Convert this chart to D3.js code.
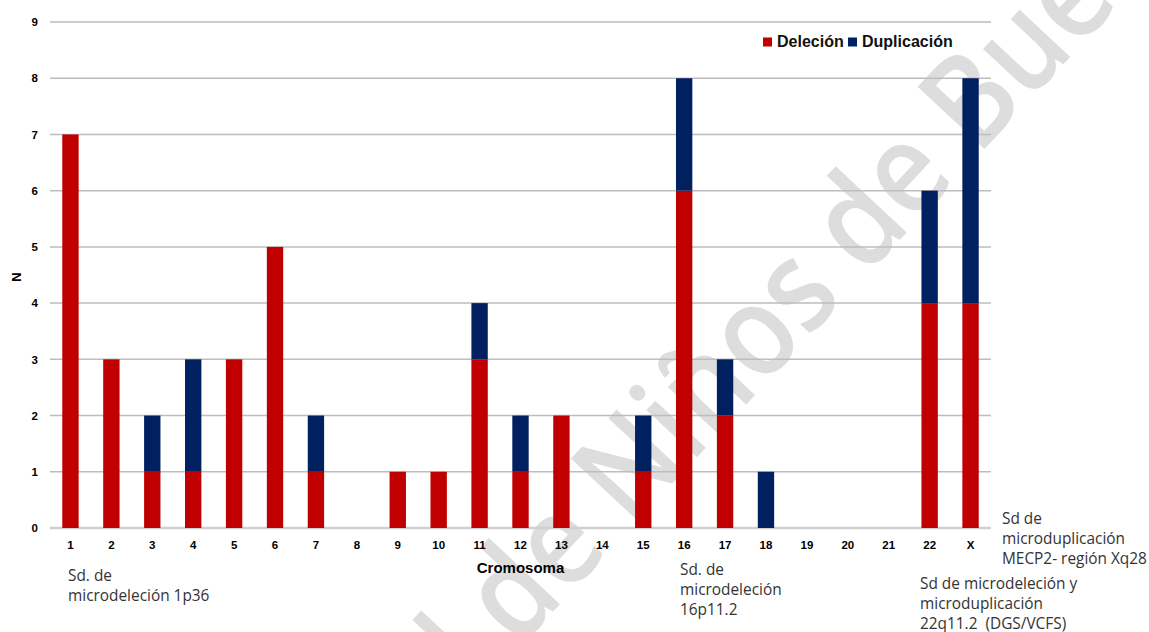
<!DOCTYPE html>
<html>
<head>
<meta charset="utf-8">
<script src="https://cdn.jsdelivr.net/npm/d3@7"></script>
<style>
  html, body { margin: 0; padding: 0; background: #fff; }
  svg { display: block; }
</style>
</head>
<body>
<svg id="chart" width="1149" height="632"></svg>
<script>
// Cases per chromosome, split by type of copy-number change
const cromosomas = ["1","2","3","4","5","6","7","8","9","10","11","12","13","14","15","16","17","18","19","20","21","22","X"];
const delecion    = [7, 3, 1, 1, 3, 5, 1, 0, 1, 1, 3, 1, 2, 0, 1, 6, 2, 0, 0, 0, 0, 4, 4];
const duplicacion = [0, 0, 1, 2, 0, 0, 1, 0, 0, 0, 1, 1, 0, 0, 1, 2, 1, 1, 0, 0, 0, 2, 4];
const yTicks = [0, 1, 2, 3, 4, 5, 6, 7, 8, 9];
const series = ["Deleción", "Duplicación"];
const colores = ["#C00000", "#002060"];

// Notes placed under specific chromosomes
const notas = [
  { lines: ["Sd. de", "microdeleción 1p36"], x: 68, y: 581 },
  { lines: ["Sd. de", "microdeleción", "16p11.2"], x: 680, y: 575 },
  { lines: ["Sd de", "microduplicación", "MECP2- región Xq28"], x: 1002, y: 524 },
  { lines: ["Sd de microdeleción y", "microduplicación", "22q11.2  (DGS/VCFS)"], x: 920, y: 589 }
];

const svg = d3.select("#chart");
const margin = { left: 50, right: 158, top: 22, bottom: 104 };
const W = 1149, H = 632;

const rows = cromosomas.map((c, i) => ({ cromosoma: c, "Deleción": delecion[i], "Duplicación": duplicacion[i] }));
const stacked = d3.stack().keys(series)(rows);

const x = d3.scaleBand().domain(cromosomas).range([margin.left, W - margin.right]).paddingInner(0.6).paddingOuter(0.3);
const y = d3.scaleLinear().domain([0, 9]).range([H - margin.bottom, margin.top]);

// Background watermark
svg.append("text")
  .attr("transform", "translate(826,319) rotate(-47) scale(0.88,1)")
  .attr("text-anchor", "middle")
  .attr("font-family", "'Open Sans', sans-serif")
  .attr("font-weight", 600)
  .attr("font-size", 128)
  .attr("fill", "#dddddd")
  .text("Hospital de Niños de Buenos Aires");

// Horizontal gridlines
svg.append("g")
  .selectAll("line")
  .data(yTicks)
  .join("line")
  .attr("x1", margin.left)
  .attr("x2", W - margin.right)
  .attr("y1", d => y(d))
  .attr("y2", d => y(d))
  .attr("stroke", d => d === 0 ? "#d0d0d0" : "#bdbdbd")
  .attr("stroke-width", d => d === 0 ? 2.5 : 1.5);

// Stacked bars
svg.append("g")
  .selectAll("g")
  .data(stacked)
  .join("g")
  .attr("fill", (d, i) => colores[i])
  .selectAll("rect")
  .data(d => d)
  .join("rect")
  .attr("x", d => x(d.data.cromosoma))
  .attr("width", x.bandwidth())
  .attr("y", d => y(d[1]))
  .attr("height", d => y(d[0]) - y(d[1]));

// Y axis labels
const yAxis = d3.axisLeft(y).tickValues(yTicks).tickSize(0).tickPadding(12);
svg.append("g")
  .attr("transform", `translate(${margin.left},0)`)
  .call(yAxis)
  .call(g => g.select(".domain").remove())
  .call(g => g.selectAll("text")
    .attr("font-family", "'Liberation Sans', Arial, sans-serif")
    .attr("font-weight", "bold")
    .attr("font-size", 11.5)
    .attr("fill", "#000"));

// X axis labels
const xAxis = d3.axisBottom(x).tickSize(0).tickPadding(13);
svg.append("g")
  .attr("transform", `translate(0,${H - margin.bottom})`)
  .call(xAxis)
  .call(g => g.select(".domain").remove())
  .call(g => g.selectAll("text")
    .attr("font-family", "'Liberation Sans', Arial, sans-serif")
    .attr("font-weight", "bold")
    .attr("font-size", 11.5)
    .attr("fill", "#000"));

// Axis titles
svg.append("text")
  .attr("x", (margin.left + W - margin.right) / 2)
  .attr("y", 573)
  .attr("text-anchor", "middle")
  .attr("font-family", "'Liberation Sans', Arial, sans-serif")
  .attr("font-weight", "bold")
  .attr("font-size", 15)
  .text("Cromosoma");

svg.append("text")
  .attr("transform", "translate(21,277) rotate(-90)")
  .attr("text-anchor", "middle")
  .attr("font-family", "'Liberation Sans', Arial, sans-serif")
  .attr("font-weight", "bold")
  .attr("font-size", 13)
  .text("N");

// Legend
const legend = svg.append("g").attr("transform", "translate(763,47)");
const legendItems = [{ label: series[0], color: colores[0], dx: 0 }, { label: series[1], color: colores[1], dx: 85 }];
legendItems.forEach(it => {
  const g = legend.append("g").attr("transform", `translate(${it.dx},0)`);
  g.append("rect").attr("x", 0).attr("y", -9.5).attr("width", 9).attr("height", 9).attr("fill", it.color);
  g.append("text")
    .attr("x", 14)
    .attr("y", 0)
    .attr("font-family", "'Liberation Sans', Arial, sans-serif")
    .attr("font-weight", "bold")
    .attr("font-size", 16)
    .attr("fill", "#111")
    .text(it.label);
});

// Notes
notas.forEach(n => {
  const t = svg.append("text")
    .attr("font-family", "'Open Sans', sans-serif")
    .attr("font-size", 15.4)
    .attr("fill", "#333");
  n.lines.forEach((ln, i) => {
    t.append("tspan").attr("x", n.x).attr("y", n.y + i * 20).attr("xml:space", "preserve").text(ln);
  });
});
</script>
</body>
</html>
